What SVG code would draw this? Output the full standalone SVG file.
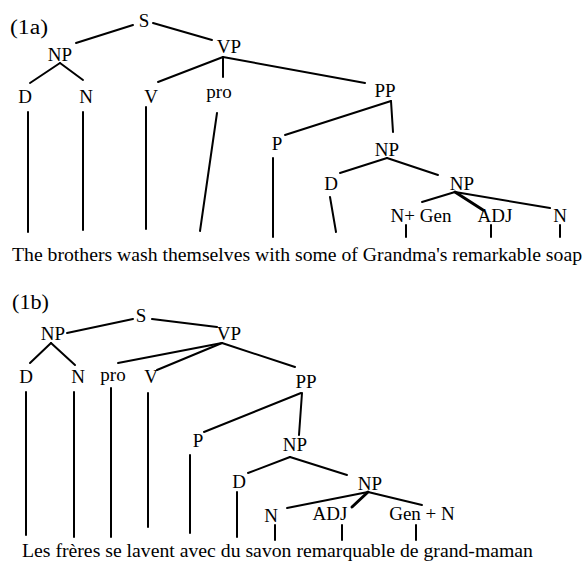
<svg xmlns="http://www.w3.org/2000/svg" width="587" height="568" viewBox="0 0 587 568">
<style>
text{font-family:"Liberation Serif","Times New Roman",serif;fill:#000}
.lab{font-size:19px;text-anchor:middle}
.ex{font-size:20px}
.sent{font-size:19px}
#connectors line{stroke:#000;stroke-width:2;stroke-linecap:round}
#connectors line.thick{stroke-width:3}
</style>
<rect width="587" height="568" fill="#fff"/>
<g id="connectors">
<!-- 1a -->
<line x1="133" y1="25" x2="76" y2="43"/>
<line x1="153" y1="23" x2="212" y2="40"/>
<line x1="60" y1="63" x2="30" y2="83"/>
<line x1="60" y1="63" x2="83" y2="80"/>
<line x1="223" y1="57" x2="158" y2="82"/>
<line x1="223" y1="57" x2="223" y2="77"/>
<line x1="223" y1="57" x2="365" y2="83"/>
<line x1="391" y1="101" x2="285" y2="135"/>
<line x1="391" y1="101" x2="393" y2="132"/>
<line x1="387" y1="158" x2="340" y2="173"/>
<line x1="387" y1="158" x2="438" y2="175"/>
<line x1="455" y1="192" x2="422" y2="202"/>
<line class="thick" x1="455" y1="192" x2="483" y2="210"/>
<line x1="455" y1="192" x2="550" y2="208"/>
<line x1="28" y1="112" x2="28" y2="232"/>
<line x1="83" y1="112" x2="83" y2="230"/>
<line x1="146" y1="107" x2="146" y2="229"/>
<line x1="217" y1="113" x2="200" y2="231"/>
<line x1="273" y1="158" x2="273" y2="237"/>
<line x1="330" y1="197" x2="336" y2="232"/>
<line x1="406" y1="225" x2="406" y2="237"/>
<line x1="491" y1="225" x2="491" y2="237"/>
<line x1="560" y1="225" x2="560" y2="237"/>
<!-- 1b -->
<line x1="133" y1="319" x2="67" y2="333"/>
<line x1="152" y1="319" x2="217" y2="327"/>
<line x1="51" y1="343" x2="30" y2="363"/>
<line x1="51" y1="343" x2="75" y2="365"/>
<line x1="222" y1="343" x2="118" y2="363"/>
<line x1="222" y1="343" x2="157" y2="370"/>
<line x1="222" y1="343" x2="295" y2="367"/>
<line x1="301" y1="393" x2="204" y2="432"/>
<line x1="302" y1="393" x2="299" y2="435"/>
<line x1="290" y1="457" x2="248" y2="473"/>
<line x1="290" y1="457" x2="347" y2="475"/>
<line x1="368" y1="492" x2="287" y2="508"/>
<line class="thick" x1="368" y1="492" x2="352" y2="507"/>
<line x1="368" y1="492" x2="422" y2="505"/>
<line x1="26" y1="392" x2="26" y2="535"/>
<line x1="74" y1="392" x2="74" y2="537"/>
<line x1="111" y1="388" x2="111" y2="537"/>
<line x1="148" y1="393" x2="148" y2="527"/>
<line x1="190" y1="455" x2="190" y2="533"/>
<line x1="237" y1="492" x2="237" y2="537"/>
<line x1="275" y1="525" x2="275" y2="540"/>
<line x1="342" y1="525" x2="342" y2="540"/>
<line x1="416" y1="525" x2="416" y2="540"/>
</g>
<!-- 1a nodes -->
<g id="a-label"><text class="ex" x="10" y="34" textLength="38" lengthAdjust="spacingAndGlyphs">(1a)</text></g>
<g id="a-S"><text class="lab" x="144" y="27">S</text></g>
<g id="a-NP"><text class="lab" x="60" y="61">NP</text></g>
<g id="a-VP"><text class="lab" x="229" y="53">VP</text></g>
<g id="a-D"><text class="lab" x="25" y="103">D</text></g>
<g id="a-N"><text class="lab" x="86" y="103">N</text></g>
<g id="a-V"><text class="lab" x="151" y="103">V</text></g>
<g id="a-pro"><text class="lab" x="219" y="98">pro</text></g>
<g id="a-PP"><text class="lab" x="385" y="97">PP</text></g>
<g id="a-P"><text class="lab" x="277" y="150">P</text></g>
<g id="a-NP2"><text class="lab" x="387" y="156">NP</text></g>
<g id="a-D2"><text class="lab" x="331" y="190">D</text></g>
<g id="a-NP3"><text class="lab" x="462" y="190">NP</text></g>
<g id="a-NGen"><text class="lab" x="421" y="222">N+ Gen</text></g>
<g id="a-ADJ"><text class="lab" x="495" y="222">ADJ</text></g>
<g id="a-N2"><text class="lab" x="560" y="222">N</text></g>
<g id="a-sentence"><text class="sent" x="12" y="261" textLength="570" lengthAdjust="spacingAndGlyphs">The brothers wash themselves with some of Grandma's remarkable soap</text></g>
<!-- 1b nodes -->
<g id="b-label"><text class="ex" x="12" y="309" textLength="37" lengthAdjust="spacingAndGlyphs">(1b)</text></g>
<g id="b-S"><text class="lab" x="141" y="322">S</text></g>
<g id="b-NP"><text class="lab" x="53" y="340">NP</text></g>
<g id="b-VP"><text class="lab" x="229" y="340">VP</text></g>
<g id="b-D"><text class="lab" x="26" y="383">D</text></g>
<g id="b-N"><text class="lab" x="78" y="383">N</text></g>
<g id="b-pro"><text class="lab" x="113" y="381">pro</text></g>
<g id="b-V"><text class="lab" x="151" y="383">V</text></g>
<g id="b-PP"><text class="lab" x="306" y="388">PP</text></g>
<g id="b-P"><text class="lab" x="198" y="447">P</text></g>
<g id="b-NP2"><text class="lab" x="295" y="451">NP</text></g>
<g id="b-D2"><text class="lab" x="239" y="488">D</text></g>
<g id="b-NP3"><text class="lab" x="370" y="490">NP</text></g>
<g id="b-N2"><text class="lab" x="271" y="522">N</text></g>
<g id="b-ADJ"><text class="lab" x="330" y="520">ADJ</text></g>
<g id="b-GenN"><text class="lab" x="422" y="520">Gen + N</text></g>
<g id="b-sentence"><text class="sent" x="22" y="557" textLength="511" lengthAdjust="spacingAndGlyphs">Les frères se lavent avec du savon remarquable de grand-maman</text></g>
</svg>
